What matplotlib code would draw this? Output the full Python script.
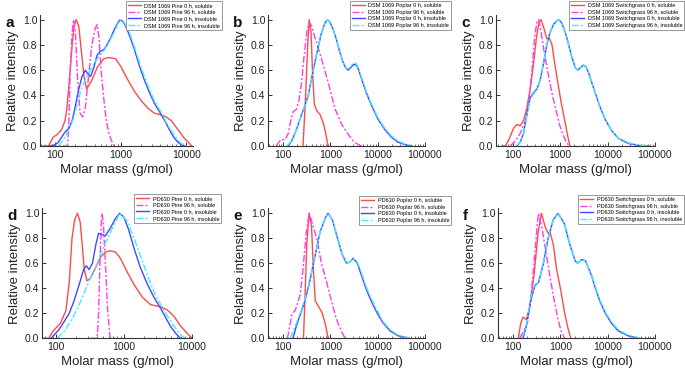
import matplotlib
matplotlib.use("Agg")
import matplotlib.pyplot as plt
import numpy as np

plt.rcParams['font.family'] = ['Liberation Sans', 'DejaVu Sans']

# ---------------- data (log10 of molar mass, relative intensity) ----------------
# Panel a: DSM 1069 Pine
a_red_x = [1.77,1.90,1.92,1.97,2.03,2.10,2.15,2.18,2.23,2.26,2.29,2.32,2.36,2.38,2.44,2.48,2.56,2.64,2.74,2.82,2.92,3.00,3.10,3.21,3.31,3.41,3.51,3.62,3.69,3.77,3.87,3.97,4.03,4.08]
a_red_y = [0,0,0.02,0.07,0.09,0.13,0.2,0.3,0.6,0.8,0.95,1.0,0.95,0.85,0.55,0.45,0.52,0.62,0.69,0.70,0.69,0.63,0.53,0.43,0.36,0.30,0.26,0.245,0.23,0.2,0.13,0.06,0.03,0.0]
a_mag_x = [1.92,2.19,2.21,2.23,2.26,2.28,2.31,2.34,2.38,2.42,2.46,2.51,2.56,2.61,2.64,2.67,2.70,2.74,2.78,2.82,2.86,2.90]
a_mag_y = [0,0,0.2,0.6,0.9,1.0,0.9,0.55,0.26,0.23,0.3,0.55,0.8,0.93,0.96,0.85,0.6,0.38,0.2,0.1,0.04,0.0]
a_blu_x = [1.92,2.00,2.05,2.10,2.15,2.21,2.26,2.31,2.36,2.41,2.46,2.50,2.54,2.59,2.64,2.69,2.74,2.79,2.85,2.90,2.95,2.99,3.04,3.09,3.15,3.21,3.28,3.36,3.44,3.51,3.59,3.67,3.72,3.77,3.82,3.87,3.92,3.97]
a_blu_y = [0,0.01,0.03,0.07,0.11,0.14,0.2,0.32,0.45,0.55,0.6,0.57,0.55,0.62,0.72,0.75,0.76,0.8,0.86,0.92,0.97,1.0,0.98,0.93,0.85,0.76,0.64,0.52,0.42,0.34,0.27,0.2,0.15,0.1,0.06,0.03,0.01,0.0]
a_cya_x = [2.05,2.13,2.18,2.23,2.28,2.33,2.38,2.44,2.49,2.54,2.59,2.67,2.74,2.82,2.90,2.95,2.99,3.05,3.13,3.21,3.31,3.41,3.51,3.62,3.69,3.77,3.85,3.92,4.00]
a_cya_y = [0,0.05,0.1,0.15,0.22,0.32,0.42,0.5,0.56,0.6,0.65,0.71,0.75,0.82,0.9,0.96,1.0,0.98,0.9,0.78,0.62,0.48,0.36,0.26,0.19,0.12,0.06,0.02,0.0]

# Panel b: DSM 1069 Poplar
b_red_x = [2.42,2.47,2.52,2.55,2.59,2.62,2.66,2.71,2.78,2.85,2.90,2.95]
b_red_y = [0,0.35,0.8,1.0,0.9,0.6,0.33,0.28,0.25,0.18,0.1,0.0]
b_mag_x = [1.86,1.89,1.95,2.04,2.11,2.16,2.21,2.28,2.33,2.39,2.44,2.50,2.55,2.60,2.68,2.78,2.88,2.99,3.09,3.24,3.38,3.48,3.59,3.66]
b_mag_y = [0,0.02,0.05,0.05,0.1,0.2,0.27,0.29,0.35,0.5,0.7,0.9,0.98,0.95,0.85,0.73,0.6,0.45,0.3,0.17,0.09,0.04,0.01,0]
b_blu_x = [2.11,2.18,2.25,2.32,2.39,2.46,2.53,2.61,2.71,2.80,2.88,2.94,2.99,3.06,3.13,3.20,3.27,3.32,3.38,3.43,3.49,3.55,3.60,3.66,3.76,3.87,4.01,4.15,4.29,4.43,4.58,4.72]
b_blu_y = [0,0.04,0.1,0.17,0.25,0.32,0.4,0.55,0.73,0.88,0.97,1.0,0.98,0.92,0.84,0.74,0.66,0.62,0.6,0.62,0.645,0.64,0.6,0.53,0.42,0.32,0.21,0.13,0.07,0.03,0.01,0.0]
b_cya_x = [2.08,2.18,2.25,2.32,2.39,2.46,2.53,2.61,2.71,2.80,2.88,2.94,2.99,3.06,3.13,3.20,3.27,3.32,3.38,3.43,3.49,3.55,3.60,3.66,3.76,3.87,4.01,4.15,4.29,4.43,4.58,4.75]
b_cya_y = [0,0.04,0.1,0.17,0.25,0.32,0.4,0.55,0.73,0.88,0.97,1.0,0.98,0.92,0.84,0.74,0.66,0.62,0.61,0.63,0.66,0.65,0.61,0.54,0.43,0.33,0.22,0.14,0.08,0.04,0.015,0.0]

# Panel c: DSM 1069 Switchgrass
c_red_x = [1.78,1.85,1.92,2.02,2.09,2.16,2.23,2.30,2.37,2.44,2.50,2.55,2.60,2.66,2.72,2.77,2.83,2.88,2.94,3.02,3.11,3.16,3.21]
c_red_y = [0,0.0,0.05,0.14,0.17,0.16,0.2,0.3,0.45,0.65,0.85,0.97,1.0,0.93,0.85,0.86,0.8,0.67,0.53,0.35,0.18,0.08,0.0]
c_mag_x = [1.95,2.06,2.16,2.27,2.34,2.41,2.46,2.51,2.55,2.59,2.64,2.70,2.77,2.84,2.91,2.98,3.05,3.12,3.19]
c_mag_y = [0,0.04,0.1,0.2,0.35,0.6,0.85,0.98,1.0,0.92,0.8,0.67,0.53,0.4,0.29,0.18,0.1,0.04,0.0]
c_blu_x = [2.09,2.16,2.23,2.30,2.37,2.44,2.51,2.58,2.65,2.72,2.79,2.86,2.93,2.98,3.04,3.11,3.18,3.25,3.32,3.37,3.43,3.49,3.54,3.60,3.67,3.74,3.84,3.95,4.09,4.23,4.44,4.65,4.86]
c_blu_y = [0,0.03,0.1,0.25,0.38,0.42,0.45,0.52,0.65,0.8,0.9,0.96,0.99,1.0,0.97,0.9,0.8,0.7,0.62,0.6,0.62,0.64,0.63,0.58,0.5,0.42,0.31,0.21,0.12,0.06,0.02,0.005,0.0]
c_cya_x = [2.07,2.16,2.23,2.30,2.37,2.44,2.51,2.58,2.65,2.72,2.79,2.86,2.93,2.98,3.04,3.11,3.18,3.25,3.32,3.37,3.43,3.49,3.54,3.60,3.67,3.74,3.84,3.95,4.09,4.23,4.44,4.65,4.90]
c_cya_y = [0,0.03,0.1,0.24,0.37,0.41,0.45,0.52,0.65,0.8,0.9,0.96,0.99,1.0,0.97,0.9,0.8,0.7,0.62,0.6,0.62,0.64,0.63,0.58,0.5,0.42,0.31,0.21,0.12,0.06,0.025,0.008,0.0]

# Panel d: PD630 Pine
d_red_x = [1.80,1.90,1.95,2.00,2.07,2.15,2.20,2.24,2.28,2.32,2.36,2.39,2.42,2.46,2.51,2.59,2.66,2.73,2.80,2.88,2.95,3.05,3.15,3.27,3.39,3.54,3.63,3.73,3.83,3.93,4.00]
d_red_y = [0,0,0.05,0.08,0.12,0.22,0.45,0.8,0.95,1.0,0.93,0.75,0.55,0.46,0.48,0.57,0.65,0.69,0.70,0.69,0.64,0.53,0.43,0.33,0.27,0.25,0.23,0.18,0.1,0.04,0.0]
d_mag_x = [2.51,2.61,2.63,2.65,2.67,2.68,2.70,2.73,2.76,2.79,2.80,2.88]
d_mag_y = [0,0,0.2,0.6,0.92,1.0,0.92,0.6,0.25,0.05,0,0]
d_blu_x = [1.93,2.00,2.05,2.12,2.20,2.27,2.34,2.41,2.45,2.49,2.54,2.59,2.63,2.68,2.73,2.80,2.88,2.94,3.00,3.07,3.15,3.24,3.34,3.44,3.54,3.61,3.68,3.76,3.83]
d_blu_y = [0,0.04,0.07,0.13,0.2,0.3,0.42,0.55,0.58,0.55,0.6,0.75,0.84,0.83,0.82,0.88,0.96,1.0,0.97,0.87,0.72,0.57,0.44,0.33,0.24,0.17,0.1,0.04,0.0]
d_cya_x = [2.02,2.12,2.24,2.37,2.46,2.61,2.71,2.83,2.94,3.05,3.15,3.27,3.37,3.46,3.56,3.66,3.76,3.85,3.90]
d_cya_y = [0,0.05,0.15,0.3,0.42,0.6,0.74,0.88,1.0,0.94,0.8,0.62,0.47,0.35,0.25,0.16,0.08,0.02,0.0]

# Panel e: PD630 Poplar
e_red_x = [2.43,2.46,2.50,2.55,2.60,2.64,2.68,2.74,2.83,2.90,2.95]
e_red_y = [0,0.3,0.75,1.0,0.9,0.55,0.3,0.26,0.2,0.1,0.0]
e_mag_x = [2.09,2.14,2.19,2.25,2.30,2.36,2.42,2.49,2.55,2.61,2.71,2.81,2.92,3.02,3.13,3.24,3.31]
e_mag_y = [0,0.1,0.2,0.22,0.27,0.35,0.55,0.85,1.0,0.93,0.8,0.6,0.45,0.3,0.15,0.05,0]
e_blu_x = [2.21,2.28,2.39,2.46,2.56,2.67,2.78,2.90,2.95,3.04,3.15,3.25,3.34,3.41,3.48,3.57,3.66,3.75,3.86,3.99,4.12,4.26,4.43,4.65]
e_blu_y = [0,0.1,0.22,0.3,0.45,0.65,0.85,0.97,1.0,0.95,0.8,0.67,0.6,0.61,0.64,0.6,0.5,0.4,0.3,0.2,0.12,0.06,0.02,0]
e_cya_x = [2.15,2.26,2.39,2.46,2.56,2.67,2.78,2.90,2.95,3.04,3.15,3.25,3.34,3.41,3.48,3.57,3.66,3.75,3.86,3.99,4.12,4.26,4.43,4.70]
e_cya_y = [0,0.1,0.23,0.31,0.46,0.65,0.85,0.97,1.0,0.95,0.8,0.67,0.6,0.61,0.64,0.61,0.52,0.42,0.32,0.22,0.13,0.07,0.025,0]

# Panel f: PD630 Switchgrass
f_red_x = [2.11,2.16,2.21,2.28,2.35,2.44,2.53,2.60,2.67,2.74,2.78,2.85,2.92,3.01,3.09,3.16,3.22]
f_red_y = [0,0.12,0.17,0.15,0.25,0.5,0.85,1.0,0.9,0.84,0.85,0.75,0.55,0.38,0.2,0.08,0]
f_mag_x = [2.14,2.25,2.30,2.37,2.44,2.52,2.54,2.61,2.71,2.80,2.87,2.95,3.02,3.09]
f_mag_y = [0,0.08,0.12,0.3,0.6,0.95,1.0,0.88,0.65,0.45,0.3,0.15,0.05,0]
f_blu_x = [2.21,2.28,2.37,2.46,2.54,2.64,2.74,2.85,2.95,3.08,3.20,3.31,3.36,3.45,3.53,3.66,3.74,3.83,3.95,4.08,4.22,4.43,4.65]
f_blu_y = [0,0.1,0.3,0.42,0.45,0.6,0.8,0.95,1.0,0.92,0.75,0.62,0.6,0.63,0.62,0.5,0.4,0.3,0.2,0.12,0.06,0.02,0]
f_cya_x = [2.18,2.28,2.37,2.46,2.54,2.64,2.74,2.85,2.95,3.08,3.20,3.31,3.36,3.45,3.53,3.66,3.74,3.83,3.95,4.08,4.22,4.43,4.70]
f_cya_y = [0,0.09,0.32,0.43,0.45,0.6,0.8,0.95,1.0,0.92,0.75,0.62,0.6,0.63,0.62,0.5,0.41,0.31,0.21,0.13,0.07,0.025,0]

panel_letters = ['a', 'b', 'c', 'd', 'e', 'f']
strains = ['DSM 1069', 'DSM 1069', 'DSM 1069', 'PD630', 'PD630', 'PD630']
substrates = ['Pine', 'Poplar', 'Switchgrass', 'Pine', 'Poplar', 'Switchgrass']
series_suffix = ['0 h, soluble', '96 h, soluble', '0 h, insoluble', '96 h, insoluble']
yticks = [0.0, 0.2, 0.4, 0.6, 0.8, 1.0]
xticks_short = [100, 1000, 10000]
xticks_long = [100, 1000, 10000, 100000]

curves = {
    'a': [(a_red_x, a_red_y), (a_mag_x, a_mag_y), (a_blu_x, a_blu_y), (a_cya_x, a_cya_y)],
    'b': [(b_red_x, b_red_y), (b_mag_x, b_mag_y), (b_blu_x, b_blu_y), (b_cya_x, b_cya_y)],
    'c': [(c_red_x, c_red_y), (c_mag_x, c_mag_y), (c_blu_x, c_blu_y), (c_cya_x, c_cya_y)],
    'd': [(d_red_x, d_red_y), (d_mag_x, d_mag_y), (d_blu_x, d_blu_y), (d_cya_x, d_cya_y)],
    'e': [(e_red_x, e_red_y), (e_mag_x, e_mag_y), (e_blu_x, e_blu_y), (e_cya_x, e_cya_y)],
    'f': [(f_red_x, f_red_y), (f_mag_x, f_mag_y), (f_blu_x, f_blu_y), (f_cya_x, f_cya_y)],
}

# ---------------- layout / style ----------------
W, H = 685, 369
fig = plt.figure(figsize=(W / 100, H / 100), dpi=100)

colors = ['#ff4a4a', '#ff3cf0', '#4646ff', '#3ceeff']
dashdot = (0, (5, 1.5, 1.5, 1.5))
styles = ['-', dashdot, '-', dashdot]

# (left px, right px, bottom px from top, px per unit y, xlim log10)
layout = {
    'a': (40, 193, 146, 126.4, (1.77, 4.10), xticks_short),
    'b': (268, 425, 146, 126.4, (1.68, 5.0), xticks_long),
    'c': (496, 655, 146, 126.4, (1.65, 5.0), xticks_long),
    'd': (42, 192, 338.3, 125, (1.80, 4.0), xticks_short),
    'e': (268, 425, 338.3, 125, (1.68, 5.0), xticks_long),
    'f': (498, 655, 338.3, 125, (1.68, 5.0), xticks_long),
}
legend_anchor = {
    'a': (222, 1), 'b': (451, 1), 'c': (684, 1),
    'd': (221, 194), 'e': (451, 196), 'f': (684, 195),
}
ytop = 1.04

for i, p in enumerate(panel_letters):
    l, r, btm, ppu, xl, xt = layout[p]
    h = ytop * ppu
    ax = fig.add_axes([l / W, (H - btm) / H, (r - l) / W, h / H])
    for k, (xs, ys) in enumerate(curves[p]):
        label = f'{strains[i]} {substrates[i]} {series_suffix[k]}'
        ax.plot(10 ** np.array(xs), ys, color=colors[k], linestyle=styles[k],
                lw=1.0, label=label)
    ax.set_xscale('log')
    ax.set_xlim(10 ** xl[0], 10 ** xl[1])
    ax.set_ylim(0, ytop)
    ax.set_xticks(xt)
    ax.set_xticklabels([str(v) for v in xt])
    ax.set_yticks(yticks)
    ax.set_yticklabels([f'{v:.1f}' for v in yticks])
    for s in ['top', 'right']:
        ax.spines[s].set_visible(False)
    for s in ['left', 'bottom']:
        ax.spines[s].set_color('#333333')
        ax.spines[s].set_linewidth(0.8)
    ax.tick_params(axis='both', which='major', direction='in', length=3,
                   width=0.7, labelsize=7.5, pad=2, colors='#333333',
                   labelcolor='#222222')
    ax.tick_params(axis='x', which='major', pad=3)
    ax.tick_params(axis='both', which='minor', direction='in', length=1.5,
                   width=0.5, colors='#333333')
    ax.set_xlabel('Molar mass (g/mol)', fontsize=9.5, labelpad=2.5, color='#222222')
    ax.set_ylabel('Relative intensity', fontsize=9.5, labelpad=3, color='#222222')
    # panel letter
    fig.text((l - 35) / W, (H - (btm - h + 8)) / H, p, fontsize=11,
             fontweight='bold', ha='left', va='center', color='#111111')
    lx, ly = legend_anchor[p]
    leg = ax.legend(loc='upper right', bbox_to_anchor=(lx / W, (H - ly) / H),
                    bbox_transform=fig.transFigure, fontsize=4.0,
                    handlelength=2.4, handletextpad=0.6, labelspacing=0.3,
                    borderpad=0.35, borderaxespad=0, fancybox=False,
                    framealpha=1, edgecolor='#888888')
    leg.get_frame().set_linewidth(0.6)

fig.savefig('out.png', dpi=100)
